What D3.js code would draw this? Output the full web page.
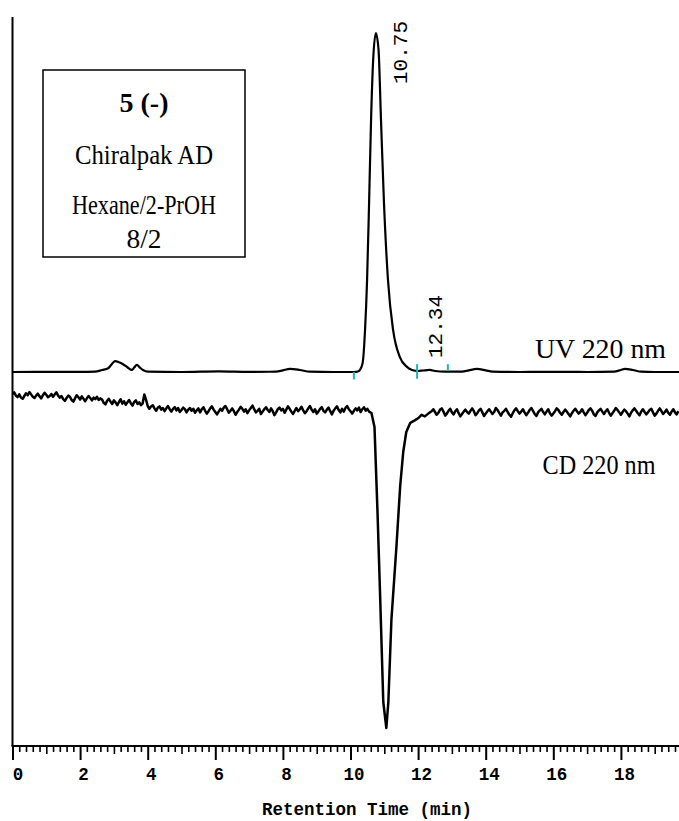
<!DOCTYPE html>
<html>
<head>
<meta charset="utf-8">
<script src="https://cdn.jsdelivr.net/npm/d3@7"></script>
<style>
  html, body { margin: 0; padding: 0; background: #fff; }
  svg { display: block; }
</style>
</head>
<body>
<svg id="chart" width="679" height="821"></svg>
<script>
// ---- UV 220 nm trace: retention time (min) and absorbance (relative units, main peak = 100)
const uvTime = [
  0.0, 1.0, 2.0, 2.44, 2.65, 2.83, 2.93, 3.03, 3.15, 3.27, 3.4, 3.53, 3.6, 3.68, 3.77, 3.86, 4.01,
  5.0, 6.1, 7.0, 7.8, 8.0, 8.21, 8.5, 8.8, 9.5, 10.0,
  10.1, 10.22, 10.28, 10.36, 10.43, 10.49, 10.55, 10.61, 10.67, 10.75, 10.83, 10.9, 10.99,
  11.11, 11.26, 11.46, 11.67, 11.82, 12.0, 12.15, 12.34, 12.5, 12.8,
  13.3, 13.5, 13.74, 14.0, 14.2, 15.0, 16.0, 17.0, 17.8, 18.0, 18.12, 18.35, 18.6, 19.0, 19.72
];
const uvSignal = [
  0.0, 0.05, 0.05, 0.1, 0.6, 1.1, 2.2, 3.2, 2.9, 2.3, 1.4, 0.6, 1.3, 2.1, 1.3, 0.6, 0.1,
  0.0, 0.2, 0.05, 0.1, 0.5, 0.9, 0.6, 0.1, 0.0, 0.0,
  0.0, 0.15, 0.6, 2.7, 12.4, 27, 50, 75, 92, 100, 95, 75, 50,
  27, 12.4, 4.4, 1.5, 0.6, 0.3, 0.45, 0.6, 0.3, 0.1,
  0.1, 0.5, 0.9, 0.5, 0.1, 0.0, 0.05, 0.0, 0.1, 0.6, 0.9, 0.6, 0.1, 0.0, 0.0
];

// Integration event marks on the UV trace (peak start, valley, peak end)
const eventTime = [10.10, 11.97, 12.88];
const eventKind = ["start", "valley", "end"];

// Retention times printed above the integrated peaks
const peakLabelTime = [10.75, 12.34];
const peakLabelText = ["10.75", "12.34"];

// ---- CD 220 nm trace (mdeg), sampled every 0.05 min before and after the band
const cdStep = 0.05;
const cdLeadStart = 0.0;
const cdLead = [
  4.0, 4.4, 3.6, 3.2, 3.9, 3.1, 2.8, 3.5, 4.2, 3.7, 4.5, 3.9, 3.3, 3.0, 3.6, 4.1, 3.4, 2.9, 3.7, 4.3, 3.8, 3.2, 3.5, 4.0, 3.3, 3.9, 4.4, 3.6, 3.1,
  3.5, 2.7, 2.3, 3.0, 3.6, 3.3, 2.5, 2.1, 2.9, 3.7, 3.2, 2.6, 3.4, 2.8, 2.2, 2.9, 3.5, 3.0, 2.4, 3.1, 2.7, 3.3, 2.5, 2.9,
  2.6, 1.8, 1.4, 2.3, 2.8, 2.1, 1.5, 2.4, 1.9, 1.2, 2.0, 2.7, 1.6, 2.2, 1.3, 1.9, 2.5, 1.7, 1.1, 2.0, 2.4, 1.5, 1.9, 1.2, 1.6,
  3.9, 2.6,
  1.0, 0.3, 0.9, 1.2, 0.4, -0.2, 0.6, 0.9, 0.1, 0.5, -0.3, 0.4, 1.0, 0.2, -0.4, 0.3, 0.7, -0.1, 0.5, -0.5, 0.0, 0.6, 0.2, -0.6, 0.1, 0.5, -0.2, 0.3, -0.7, -0.1, 0.4,
  -0.6, 0.2, 0.7, -0.2, -0.9, -0.3, 0.4, 0.9, 0.1, -0.5,
  -1.1, -0.4, 0.3, -0.2, 0.6, 1.0, 0.2, -0.7, -0.2, 0.4,
  -0.3, -1.2, -0.5, 0.1, 0.8, 0.3, -0.4, 0.2, -0.8, -0.1,
  0.5, 1.1, 0.2, -0.6, -0.2, 0.3, -1.0, -0.4, 0.2, 0.7,
  0.0, -0.5, 0.4, -0.3, -1.3, -0.6, 0.2, 0.6, -0.1, 0.3,
  -0.7, 0.1, 0.9, 0.3, -0.4, -1.0, -0.2, 0.5, -0.3, 0.2,
  0.8, -0.1, -0.8, -0.3, 0.4, 1.0, 0.1, -0.5, 0.2, -0.9,
  -0.4, 0.3, 0.7, -0.2, -0.6, 0.1, 0.6, -0.3, -1.1, -0.2,
  0.4, 0.9, 0.0, -0.6, 0.3, -0.4, 0.5, 1.0, 0.2, -0.3,
  -0.9, -0.2, 0.4, -0.1, 0.6, -0.5, 0.2, 0.7, -0.2, 0.3,
  -0.4
];
// Negative CD band of the eluting enantiomer
const cdBandTime = [10.62, 10.71, 10.80, 10.88, 10.97, 11.06, 11.12, 11.21, 11.36, 11.47, 11.56, 11.65, 11.77, 11.9, 12.01, 12.1, 12.2, 12.3];
const cdBandSignal = [-0.75, -4.25, -25.75, -47.5, -73, -79.5, -73, -52.5, -34, -19, -10.5, -5.5, -3.2, -2.6, -2.0, -1.2, -1.6, -0.9];
const cdTailStart = 12.4;
const cdTail = [
  -0.3, 0.2, -0.5, -1.2, -0.7, 0.1, 0.4, -0.4, -1.4, -0.9,
  -0.2, 0.3, -0.6, -1.1, -0.3, 0.2, -0.8, -1.6, -1.0, -0.4,
  0.1, -0.5, -0.9, -0.2, 0.4, -0.3, -1.3, -0.8, -0.1, 0.3,
  -0.6, -1.5, -0.9, -0.3, 0.2, -0.4, -1.0, -0.5, 0.5, 0.0,
  -0.7, -1.4, -0.6, -0.2, 0.3, -0.5, -1.2, -1.7, -0.8, -0.1,
  0.4, -0.3, -0.9, -0.4, 0.2, -0.6, -1.3, -0.7, 0.0, 0.5,
  -0.2, -1.0, -1.5, -0.6, -0.1, 0.3, -0.5, -1.1, -0.4, 0.2,
  -0.8, -1.4, -0.9, -0.3, 0.4, 0.0, -0.7, -1.2, -0.5, 0.1,
  -0.4, -1.0, -1.6, -0.8, -0.2, 0.3, -0.3, -0.9, -0.5, 0.2,
  -0.6, -1.3, -0.7, 0.0, 0.4, -0.2, -1.1, -1.5, -0.6, -0.1,
  0.3, -0.4, -1.0, -0.3, 0.2, -0.7, -1.4, -0.8, -0.2, 0.5,
  0.0, -0.6, -1.2, -0.5, 0.1, -0.3, -0.9, -1.6, -0.7, -0.1,
  0.4, -0.2, -0.8, -1.3, -0.4, 0.2, -0.5, -1.1, -0.6, 0.0,
  0.3, -0.6, -1.4, -0.9, -0.2, 0.4, -0.3, -1.0, -0.5, 0.1,
  -0.7, -1.2, -0.4, 0.2, -0.6, -1.1, -0.3
];

// Axis ticks
const majorTicks = [0, 2, 4, 6, 8, 10, 12, 14, 16, 18];
const axisTitle = "Retention Time (min)";

// Sample info box
const infoLines = ["5 (-)", "Chiralpak AD", "Hexane/2-PrOH", "8/2"];
const traceNames = ["UV 220 nm", "CD 220 nm"];

// ---------------------------------------------------------------
const svg = d3.select("#chart");
const left = 12.5, right = 679, axisY = 746, topY = 17;

const x = d3.scaleLinear().domain([0, (right - left) / 33.8]).range([left, right]);
const yUV = d3.scaleLinear().domain([0, 100]).range([372, 33]);
const yCD = d3.scaleLinear().domain([-80, 5]).range([730, 390]);

svg.append("clipPath").attr("id", "plotclip")
  .append("rect").attr("x", left).attr("y", 0).attr("width", right - left).attr("height", axisY);

// Build point lists
const uvData = uvTime.map((t, i) => [t, uvSignal[i]]);
const cdData = [];
cdLead.forEach((v, i) => cdData.push([cdLeadStart + i * cdStep, v]));
cdBandTime.forEach((t, i) => cdData.push([t, cdBandSignal[i]]));
cdTail.forEach((v, i) => cdData.push([cdTailStart + i * cdStep, v]));

const plot = svg.append("g").attr("clip-path", "url(#plotclip)");

plot.append("path")
  .datum(uvData)
  .attr("fill", "none")
  .attr("stroke", "#000")
  .attr("stroke-width", 2.2)
  .attr("stroke-linejoin", "round")
  .attr("d", d3.line().x(d => x(d[0])).y(d => yUV(d[1])).curve(d3.curveMonotoneX));

plot.append("path")
  .datum(cdData)
  .attr("fill", "none")
  .attr("stroke", "#000")
  .attr("stroke-width", 2.5)
  .attr("stroke-linejoin", "round")
  .attr("d", d3.line().x(d => x(d[0])).y(d => yCD(d[1])));

// Integration event marks
const eventSpan = { start: [-2.2, 0.0], valley: [-2.0, 2.3], end: [0.3, 2.3] };
plot.selectAll("line.event")
  .data(eventTime)
  .join("line")
  .attr("class", "event")
  .attr("x1", d => x(d)).attr("x2", d => x(d))
  .attr("y1", (d, i) => yUV(eventSpan[eventKind[i]][0]))
  .attr("y2", (d, i) => yUV(eventSpan[eventKind[i]][1]))
  .attr("stroke", "#1fb3bb")
  .attr("stroke-width", 2);

// Retention time labels, rotated
const labelOffset = [{ dx: 31, base: 84 }, { dx: 12, base: 358 }];
svg.selectAll("text.rt")
  .data(peakLabelTime)
  .join("text")
  .attr("class", "rt")
  .attr("transform", (d, i) => `translate(${x(d) + labelOffset[i].dx},${labelOffset[i].base}) rotate(-90)`)
  .attr("font-family", "'Liberation Mono', 'Courier New', monospace")
  .attr("font-size", 21)
  .attr("fill", "#000")
  .text((d, i) => peakLabelText[i]);

// Axes frame
svg.append("line")
  .attr("x1", left).attr("x2", left).attr("y1", topY).attr("y2", axisY)
  .attr("stroke", "#000").attr("stroke-width", 2);

const minorTicks = d3.range(0, 100).map(i => i * 0.2).filter(t => t <= x.domain()[1] && Math.abs(t - Math.round(t)) > 1e-6);
const midTicks = d3.range(1, 20, 2);

const gMinor = svg.append("g").attr("transform", `translate(0,${axisY})`)
  .call(d3.axisBottom(x).tickValues(minorTicks).tickSize(6).tickFormat(""));
const gMid = svg.append("g").attr("transform", `translate(0,${axisY})`)
  .call(d3.axisBottom(x).tickValues(midTicks).tickSize(8).tickFormat(""));
const gMajor = svg.append("g").attr("transform", `translate(0,${axisY})`)
  .call(d3.axisBottom(x).tickValues(majorTicks).tickSize(14).tickPadding(8).tickFormat(d3.format("d")));

[gMinor, gMid, gMajor].forEach(g => {
  g.select(".domain").remove();
  g.selectAll(".tick line").attr("stroke", "#000").attr("stroke-width", 1.6);
});
gMajor.selectAll(".tick line").attr("stroke-width", 2);
gMajor.selectAll(".tick text")
  .attr("font-family", "'Liberation Mono', 'Courier New', monospace")
  .attr("font-weight", "bold")
  .attr("font-size", 17.5)
  .attr("fill", "#000")
  .attr("dx", d => d === 0 ? 5 : 3);

svg.append("line")
  .attr("x1", left - 1).attr("x2", right).attr("y1", axisY).attr("y2", axisY)
  .attr("stroke", "#000").attr("stroke-width", 2);

svg.append("text")
  .attr("x", 367).attr("y", 815)
  .attr("text-anchor", "middle")
  .attr("font-family", "'Liberation Mono', 'Courier New', monospace")
  .attr("font-weight", "bold")
  .attr("font-size", 17.5)
  .attr("fill", "#000")
  .text(axisTitle);

// Trace names
const traceNameLayout = [{ x: 600.5, y: 358, w: 131 }, { x: 599, y: 474, w: 113 }];
svg.selectAll("text.trace")
  .data(traceNames)
  .join("text")
  .attr("class", "trace")
  .attr("x", (d, i) => traceNameLayout[i].x)
  .attr("y", (d, i) => traceNameLayout[i].y)
  .attr("text-anchor", "middle")
  .attr("textLength", (d, i) => traceNameLayout[i].w)
  .attr("lengthAdjust", "spacingAndGlyphs")
  .attr("font-family", "'Liberation Serif', 'Times New Roman', serif")
  .attr("font-size", 27)
  .attr("fill", "#000")
  .text(d => d);

// Sample info box
svg.append("rect")
  .attr("x", 43).attr("y", 70).attr("width", 202).attr("height", 187)
  .attr("fill", "#fff").attr("stroke", "#000").attr("stroke-width", 1.5);

const infoLayout = [{ y: 112, w: 49 }, { y: 164, w: 138 }, { y: 214, w: 144 }, { y: 248, w: 35 }];
svg.selectAll("text.info")
  .data(infoLines)
  .join("text")
  .attr("class", "info")
  .attr("x", 144)
  .attr("y", (d, i) => infoLayout[i].y)
  .attr("text-anchor", "middle")
  .attr("textLength", (d, i) => infoLayout[i].w)
  .attr("lengthAdjust", "spacingAndGlyphs")
  .attr("font-family", "'Liberation Serif', 'Times New Roman', serif")
  .attr("font-weight", (d, i) => i === 0 ? "bold" : "normal")
  .attr("font-size", 28)
  .attr("fill", "#000")
  .text(d => d);
</script>
</body>
</html>
